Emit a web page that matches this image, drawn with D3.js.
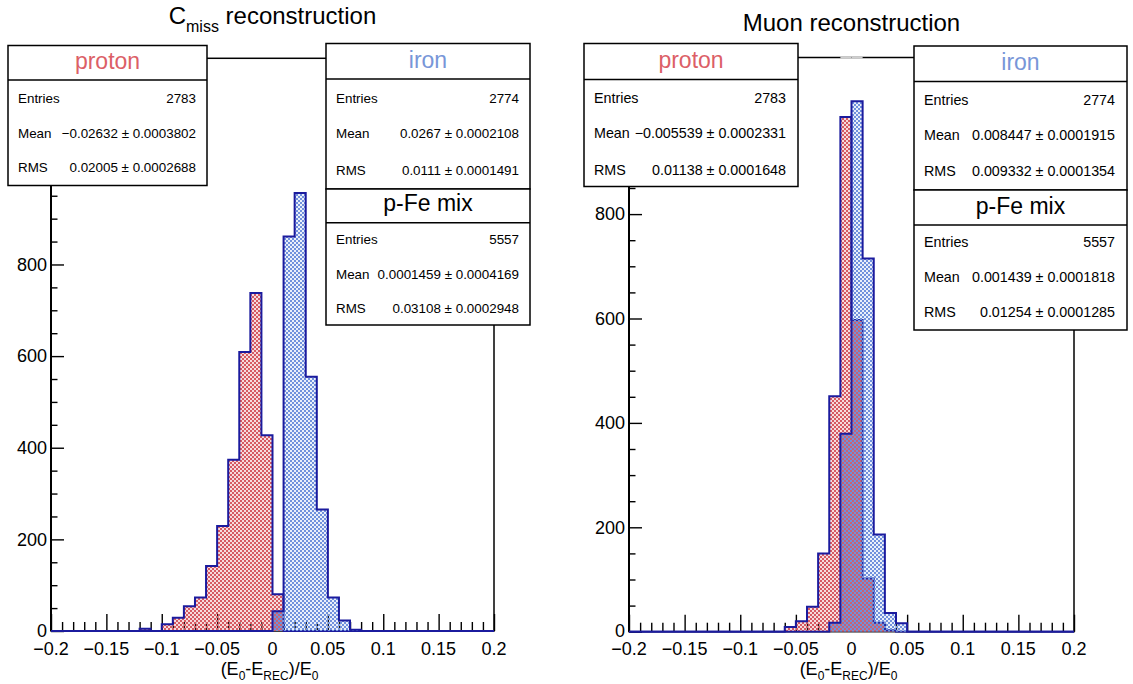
<!DOCTYPE html>
<html>
<head>
<meta charset="utf-8">
<script src="https://cdn.jsdelivr.net/npm/d3@7"></script>
<style>
  body { margin: 0; background: #fff; }
  svg { display: block; }
  text { font-family: "Liberation Sans", Arial, Helvetica, sans-serif; fill: #000; }
</style>
</head>
<body>
<svg id="chart" width="1133" height="684"></svg>
<script>
// ---- data -------------------------------------------------------------
const binWidth = 0.01;
const xRange = [-0.2, 0.2];
const xTicks = [-0.2, -0.15, -0.1, -0.05, 0, 0.05, 0.1, 0.15, 0.2];
const xTickLabels = ["\u22120.2", "\u22120.15", "\u22120.1", "\u22120.05", "0", "0.05", "0.1", "0.15", "0.2"];

// C_miss reconstruction: counts per 0.01 bin, starting at the given low edge
const cmissProtonStart = -0.12;
const cmissProton = [5, 0, 15, 29, 54, 73, 142, 229, 374, 609, 738, 427, 80];
const cmissIronStart = 0.0;
const cmissIron = [43, 861, 956, 555, 265, 73, 23, 3];
const cmissYTicks = [0, 200, 400, 600, 800];
const cmissYMax = 1250;

// Muon reconstruction
const muonProtonStart = -0.06;
const muonProton = [9, 20, 48, 150, 451, 986, 597, 102, 17, 3];
const muonIronStart = -0.02;
const muonIron = [17, 379, 1016, 715, 186, 36, 16];
const muonYTicks = [0, 200, 400, 600, 800];
const muonYMax = 1100;

// statistics boxes
const statLabels = ["Entries", "Mean", "RMS"];
const cmissProtonStats = ["2783", "\u22120.02632 \u00b1 0.0003802", "0.02005 \u00b1 0.0002688"];
const cmissIronStats = ["2774", "0.0267 \u00b1 0.0002108", "0.0111 \u00b1 0.0001491"];
const cmissMixStats = ["5557", "0.0001459 \u00b1 0.0004169", "0.03108 \u00b1 0.0002948"];
const muonProtonStats = ["2783", "\u22120.005539 \u00b1 0.0002331", "0.01138 \u00b1 0.0001648"];
const muonIronStats = ["2774", "0.008447 \u00b1 0.0001915", "0.009332 \u00b1 0.0001354"];
const muonMixStats = ["5557", "0.001439 \u00b1 0.0001818", "0.01254 \u00b1 0.0001285"];

// ---- styling ----------------------------------------------------------
const OUTLINE = "#1b1b9e";
const RED = "#d65a62";
const BLUE = "#7091dc";
const RED_TEXT = "#dc5f67";
const BLUE_TEXT = "#7896d8";

const svg = d3.select("#chart");
const defs = svg.append("defs");

// fine checker fill patterns; transparent gaps let overlapping fills mix
function checker(id, color, offset, wash) {
  const p = defs.append("pattern")
    .attr("id", id).attr("patternUnits", "userSpaceOnUse")
    .attr("width", 4).attr("height", 4);
  p.append("rect").attr("width", 4).attr("height", 4)
    .attr("fill", color).attr("opacity", wash);
  p.append("rect").attr("x", offset).attr("y", 0).attr("width", 2).attr("height", 2).attr("fill", color);
  p.append("rect").attr("x", 2 - offset).attr("y", 2).attr("width", 2).attr("height", 2).attr("fill", color);
}
checker("fillRed", RED, 0, 0.22);
checker("fillBlue", BLUE, 2, 0.15);

// expand a (start, counts) list into the full set of bins over the x range
function toBins(start, counts) {
  const n = Math.round((xRange[1] - xRange[0]) / binWidth);
  const bins = [];
  for (let i = 0; i < n; i++) {
    const lo = +(xRange[0] + i * binWidth).toFixed(4);
    const k = Math.round((lo - start) / binWidth);
    bins.push({ lo, hi: +(lo + binWidth).toFixed(4), v: (k >= 0 && k < counts.length) ? counts[k] : 0 });
  }
  return bins;
}

function stepPoints(bins) {
  const pts = [[bins[0].lo, 0]];
  bins.forEach(b => { pts.push([b.lo, b.v]); pts.push([b.hi, b.v]); });
  pts.push([bins[bins.length - 1].hi, 0]);
  return pts;
}

const panels = [
  {
    id: "cmiss", left: 51, right: 494, bottom: 631, top: 58.3,
    yMax: cmissYMax, yTicks: cmissYTicks, statFont: 13.4, statPad: 11,
    proton: toBins(cmissProtonStart, cmissProton),
    iron: toBins(cmissIronStart, cmissIron),
    title: { main: "C", sub: "miss", rest: " reconstruction", y: 24 },
    boxes: [
      { name: "proton", color: RED_TEXT, x: 8, y: 45.5, w: 199, h: 140, div: 80, rows: [102.5, 137.5, 172], stats: cmissProtonStats },
      { name: "iron", color: BLUE_TEXT, x: 326, y: 43.5, w: 204, h: 145.5, div: 79, rows: [103, 138, 175], stats: cmissIronStats },
      { name: "p-Fe mix", color: "#000", x: 326, y: 189, w: 204, h: 136, div: 222.7, rows: [244.3, 279, 312.7], stats: cmissMixStats }
    ]
  },
  {
    id: "muon", left: 629, right: 1074, bottom: 631.7, top: 57.5,
    yMax: muonYMax, yTicks: muonYTicks, statFont: 14.3, statPad: 12,
    proton: toBins(muonProtonStart, muonProton),
    iron: toBins(muonIronStart, muonIron),
    title: { main: "Muon reconstruction", y: 30.5 },
    boxes: [
      { name: "proton", color: RED_TEXT, x: 584, y: 43.5, w: 214, h: 143, div: 79.5, rows: [102.5, 138, 174.5], stats: muonProtonStats },
      { name: "iron", color: BLUE_TEXT, x: 914, y: 46, w: 213, h: 144, div: 81.5, rows: [104.7, 140.4, 176.4], stats: muonIronStats },
      { name: "p-Fe mix", color: "#000", x: 914, y: 190, w: 213, h: 140, div: 225, rows: [246.5, 282, 316.7], stats: muonMixStats }
    ]
  }
];

panels.forEach(P => {
  const g = svg.append("g").attr("class", "panel-" + P.id);
  const x = d3.scaleLinear().domain(xRange).range([P.left, P.right]);
  const y = d3.scaleLinear().domain([0, P.yMax]).range([P.bottom, P.top]);

  defs.append("clipPath").attr("id", "clip-" + P.id)
    .append("rect").attr("x", P.left).attr("y", P.top - 1)
    .attr("width", P.right - P.left).attr("height", P.bottom - P.top + 2);

  // frame
  g.append("rect")
    .attr("x", P.left).attr("y", P.top)
    .attr("width", P.right - P.left).attr("height", P.bottom - P.top)
    .attr("fill", "none").attr("stroke", "#000").attr("stroke-width", 1.5);

  // x axis: major ticks every 0.05, minor every 0.01, pointing into the frame
  const xAxis = d3.axisTop(x).tickValues(d3.range(-0.2, 0.2001, 0.01).map(v => +v.toFixed(2)))
    .tickSize(0).tickFormat("");
  const gx = g.append("g").attr("transform", `translate(0,${P.bottom})`).call(xAxis);
  gx.select(".domain").remove();
  gx.selectAll(".tick line")
    .attr("y2", d => Math.abs(Math.round(d * 100) % 5) === 0 ? -17 : -9)
    .attr("stroke", "#000").attr("stroke-width", 1.4);
  g.selectAll(".xlab").data(xTicks).join("text")
    .attr("x", d => x(d)).attr("y", P.bottom + 23.5)
    .attr("text-anchor", "middle").attr("font-size", 18)
    .text((d, i) => xTickLabels[i]);

  // y axis: labelled every 200, minor every 50
  const yMinor = d3.range(0, P.yMax + 1, 50);
  const yAxis = d3.axisRight(y).tickValues(yMinor).tickSize(0).tickFormat("");
  const gy = g.append("g").attr("transform", `translate(${P.left},0)`).call(yAxis);
  gy.select(".domain").remove();
  gy.selectAll(".tick line")
    .attr("x2", d => d % 200 === 0 ? 13 : 6.5)
    .attr("stroke", "#000").attr("stroke-width", 1.4);
  g.append("line").attr("x1", P.left).attr("x2", P.left)
    .attr("y1", P.top).attr("y2", P.bottom).attr("stroke", "#000").attr("stroke-width", 2);
  g.selectAll(".ylab").data(P.yTicks).join("text")
    .attr("x", P.left - 4).attr("y", d => y(d) + (d === 0 ? 5.5 : 6.3))
    .attr("text-anchor", "end").attr("font-size", 18)
    .text(d => d);

  // combined p-Fe sample: only where it runs past the frame top does it show
  const mix = P.proton.map((b, i) => ({ lo: b.lo, hi: b.hi, v: b.v + P.iron[i].v }));
  g.selectAll(".mixcap").data(mix.filter(b => b.v > P.yMax)).join("line")
    .attr("x1", b => x(b.lo)).attr("x2", b => x(b.hi))
    .attr("y1", P.top).attr("y2", P.top)
    .attr("stroke", "#cfcfcf").attr("stroke-width", 2);

  // histograms
  const line = d3.line().x(d => x(d[0])).y(d => y(d[1]));
  const hg = g.append("g").attr("clip-path", `url(#clip-${P.id})`);
  [[P.proton, "fillRed"], [P.iron, "fillBlue"]].forEach(([bins, fill]) => {
    const pts = stepPoints(bins);
    hg.append("path").attr("d", line(pts) + "Z")
      .attr("fill", `url(#${fill})`).attr("stroke", "none");
    hg.append("path").attr("d", line(pts))
      .attr("fill", "none").attr("stroke", OUTLINE).attr("stroke-width", 2)
      .attr("stroke-linejoin", "miter");
  });

  // axis title
  const cx = (P.left + P.right) / 2 - 3;
  const at = g.append("text").attr("x", cx).attr("y", 675)
    .attr("text-anchor", "middle").attr("font-size", 18);
  at.append("tspan").text("(E");
  at.append("tspan").attr("font-size", 12).attr("dy", 5).text("0");
  at.append("tspan").attr("dy", -5).text("-E");
  at.append("tspan").attr("font-size", 12).attr("dy", 5).text("REC");
  at.append("tspan").attr("dy", -5).text(")/E");
  at.append("tspan").attr("font-size", 12).attr("dy", 5).text("0");

  // panel title
  const tt = g.append("text").attr("x", (P.left + P.right) / 2).attr("y", P.title.y)
    .attr("text-anchor", "middle").attr("font-size", 24);
  tt.append("tspan").text(P.title.main);
  if (P.title.sub) {
    tt.append("tspan").attr("font-size", 16).attr("dy", 8).text(P.title.sub);
    tt.append("tspan").attr("dy", -8).text(P.title.rest);
  }

  // statistics boxes
  P.boxes.forEach(B => {
    const bg = g.append("g");
    bg.append("rect").attr("x", B.x).attr("y", B.y).attr("width", B.w).attr("height", B.h)
      .attr("fill", "#fff").attr("stroke", "#000").attr("stroke-width", 1.5);
    bg.append("line").attr("x1", B.x).attr("x2", B.x + B.w).attr("y1", B.div).attr("y2", B.div)
      .attr("stroke", "#000").attr("stroke-width", 1.5);
    bg.append("text").attr("x", B.x + B.w / 2).attr("y", B.div - 11.5)
      .attr("text-anchor", "middle").attr("font-size", 23)
      .style("fill", B.color).text(B.name);
    statLabels.forEach((lab, i) => {
      bg.append("text").attr("x", B.x + 10).attr("y", B.rows[i])
        .attr("font-size", P.statFont).text(lab);
      bg.append("text").attr("x", B.x + B.w - P.statPad).attr("y", B.rows[i])
        .attr("text-anchor", "end").attr("font-size", P.statFont).text(B.stats[i]);
    });
  });
});
</script>
</body>
</html>
